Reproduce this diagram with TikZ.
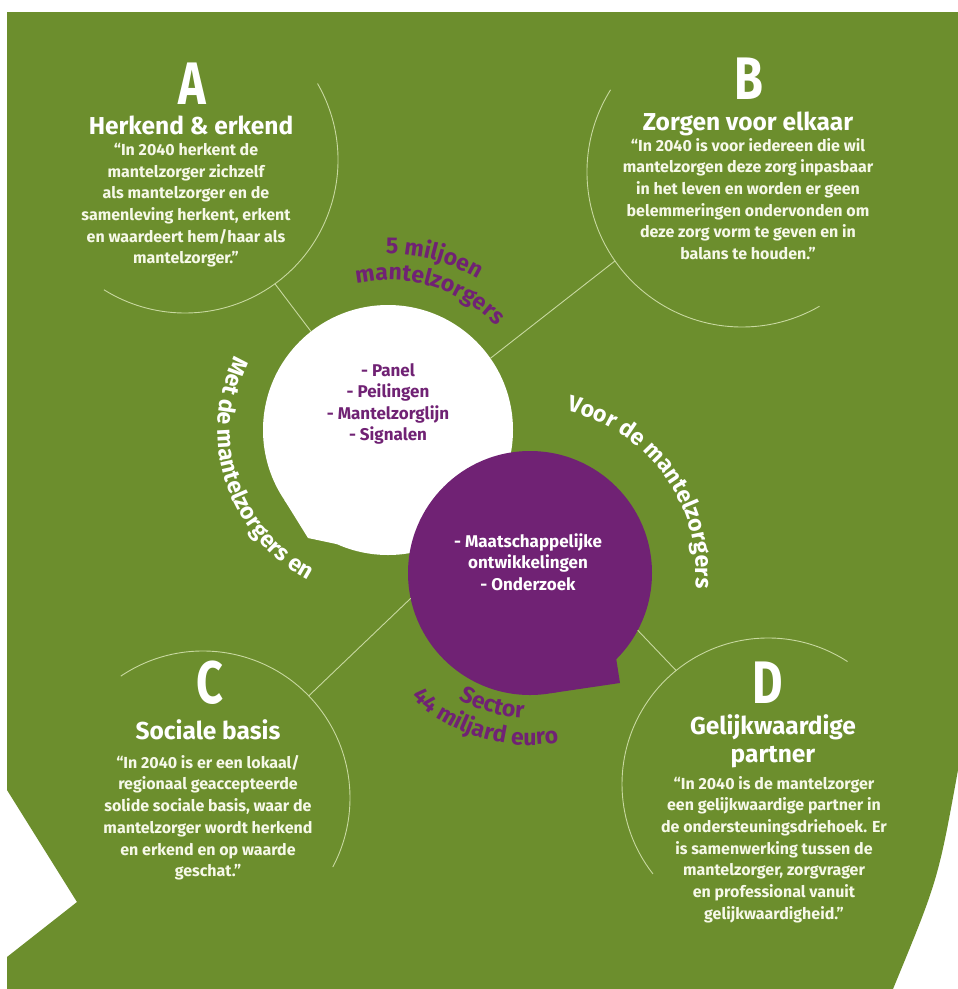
\documentclass[tikz,border=0pt]{standalone}
\usepackage{fontspec}
\setmainfont{Fira Sans}
\usetikzlibrary{decorations.text}
\definecolor{mzgreen}{RGB}{108,142,45}
\definecolor{mzpurple}{RGB}{112,34,116}
\definecolor{mzline}{RGB}{200,216,160}
\definecolor{mzcream}{RGB}{246,248,232}
\newcommand{\arcfont}{\bfseries\fontsize{23}{27}\selectfont}

\tikzset{
  ring/.style={circle, inner sep=0pt, outer sep=0pt, minimum size=#1},
  ringline/.style={draw=mzline, line width=0.9pt},
  bigletter/.style={text=white, inner sep=0pt, font=\bfseries\fontsize{60}{60}\selectfont},
  heading/.style={text=white, inner sep=0pt, align=center, font=\bfseries\fontsize{24.5}{28}\selectfont},
  quote/.style={text=mzcream, inner sep=0pt, anchor=north, align=center, font=\bfseries\fontsize{16}{21.7}\selectfont},
  bubbletext/.style={inner sep=0pt, align=center, font=\bfseries\fontsize{17}{21.5}\selectfont}
}

\begin{document}
\begin{tikzpicture}[x=1pt, y=1pt]
  \useasboundingbox (0,0) rectangle (958,-989);
  \fill[white] (0,0) rectangle (958,-989);

  % background
  \fill[mzgreen] (7,-12) -- (958,-12) -- (958,-770)
    .. controls (938,-880) .. (893,-989) -- (7,-989) -- (7,-957)
    -- (77,-902) -- (7,-790) -- cycle;

  % rings round the four themes
  \node[ring=306pt] (circA) at (185,-160) {};
  \node[ring=310pt] (circB) at (742,-172) {};
  \node[ring=294pt] (circC) at (203,-798) {};
  \node[ring=292pt] (circD) at (768,-784) {};
  \draw[ringline] (circA.30) arc[start angle=30, end angle=-122, radius=153];
  \draw[ringline] (circB.148) arc[start angle=148, end angle=300, radius=155];
  \draw[ringline] (circC.124) arc[start angle=124, end angle=-28, radius=147];
  \draw[ringline] (circD.57) arc[start angle=57, end angle=218, radius=146];

  % bubbles
  \node[ring=250pt, fill=white] (white) at (388,-430) {};
  \coordinate (whiteTip) at (308,-538);
  \fill[white] (white.214) -- (whiteTip) -- (white.246) -- cycle;
  \node[ring=244pt, fill=mzpurple] (purple) at (530,-573) {};
  \coordinate (purpleTip) at (620,-683);
  \fill[mzpurple] (purple.-45) -- (purpleTip) -- (purple.-80) -- cycle;

  % connectors
  \draw[ringline] (white.128) -- (circA.-54);
  \draw[ringline] (white.35) -- (circB.215);
  \draw[ringline] (purple.192) -- (circC.44);
  \draw[ringline] (purple.-28) -- (circD.129);

  % bubble texts
  \node[bubbletext, text=mzpurple] (whiteTxt) at (388,-404)
    {- Panel\\- Peilingen\\- Mantelzorglijn\\- Signalen};
  \node[bubbletext, text=white] (purpleTxt) at (528,-562)
    {- Maatschappelijke\\ontwikkelingen\\- Onderzoek};

  % texts along the bubbles
  \path[decorate, decoration={text along path, text align=center, text color=mzpurple,
      text={|\arcfont|5 miljoen}}]
    (white.center) ++(105:176) arc[start angle=105, end angle=45, radius=176];
  \path[decorate, decoration={text along path, text align=center, text color=mzpurple,
      text={|\arcfont|mantelzorgers}}]
    (white.center) ++(118:150) arc[start angle=118, end angle=28, radius=150];
  \path[decorate, decoration={text along path, text align=center, text color=white,
      text={|\arcfont|Met de mantelzorgers en}}]
    (white.center) ++(137:170) arc[start angle=137, end angle=259, radius=170];
  \path[decorate, decoration={text along path, text align=center, text color=white,
      text={|\arcfont|Voor de mantelzorgers}}]
    (purple.center) ++(95:166) arc[start angle=95, end angle=-23, radius=166];
  \path[decorate, decoration={text along path, text align=center, text color=mzpurple,
      text={|\arcfont|Sector}}]
    (purple.center) ++(222:145) arc[start angle=222, end angle=286, radius=145];
  \path[decorate, decoration={text along path, text align=center, text color=mzpurple,
      text={|\arcfont|44 miljard euro}}]
    (purple.center) ++(210:172) arc[start angle=210, end angle=296, radius=172];

  % A
  \node[bigletter] (letA) at (192,-84) {\scalebox{0.78}[1]{A}};
  \node[heading] (titA) at (191,-125) {Herkend \& erkend};
  \node[quote] (txtA) at (186,-143) {“In 2040 herkent de\\mantelzorger zichzelf\\als mantelzorger en de\\samenleving herkent, erkent\\en waardeert hem/haar als\\mantelzorger.”};

  % B
  \node[bigletter] (letB) at (749,-79) {\scalebox{0.78}[1]{B}};
  \node[heading] (titB) at (748,-124) {Zorgen voor elkaar};
  \node[quote] (txtB) at (748,-138) {“In 2040 is voor iedereen die wil\\mantelzorgen deze zorg inpasbaar\\in het leven en worden er geen\\belemmeringen ondervonden om\\deze zorg vorm te geven en in\\balans te houden.”};

  % C
  \node[bigletter] (letC) at (210,-683) {\scalebox{0.78}[1]{C}};
  \node[heading] (titC) at (208,-730) {Sociale basis};
  \node[quote] (txtC) at (208,-755) {“In 2040 is er een lokaal/\\regionaal geaccepteerde\\solide sociale basis, waar de\\mantelzorger wordt herkend\\en erkend en op waarde\\geschat.”};

  % D
  \node[bigletter] (letD) at (768,-683) {\scalebox{0.78}[1]{D}};
  \node[heading] (titD) at (773,-741) {Gelijkwaardige\\partner};
  \node[quote] (txtD) at (774,-776) {“In 2040 is de mantelzorger\\een gelijkwaardige partner in\\de ondersteuningsdriehoek. Er\\is samenwerking tussen de\\mantelzorger, zorgvrager\\en professional vanuit\\gelijkwaardigheid.”};
\end{tikzpicture}
\end{document}
